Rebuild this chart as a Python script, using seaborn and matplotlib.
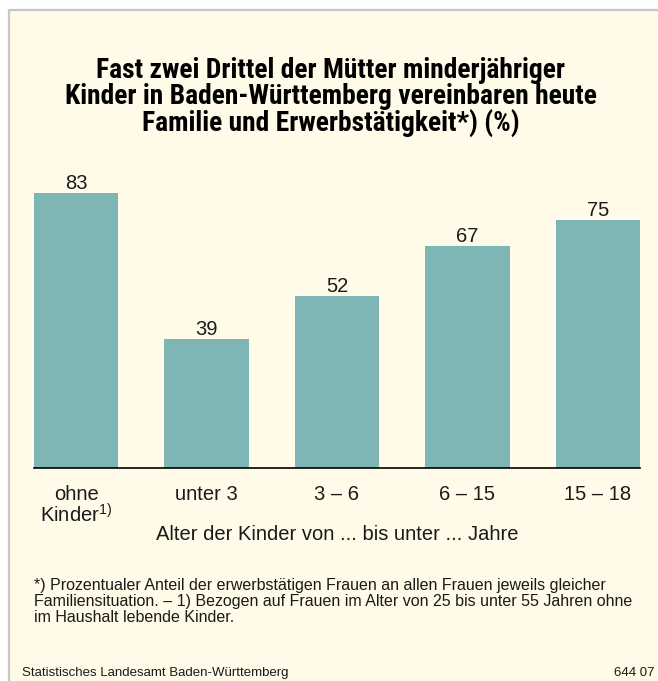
import matplotlib
matplotlib.use("Agg")
import matplotlib.pyplot as plt
from matplotlib.patches import Rectangle
from matplotlib.lines import Line2D
import seaborn as sns
import pandas as pd

# ---- data ----
categories = ["ohne Kinder", "unter 3", "3 – 6", "6 – 15", "15 – 18"]
tick_labels = ["ohne\nKinder$^{\\mathrm{1)}}$", "unter 3", "3 – 6", "6 – 15", "15 – 18"]
values = [83, 39, 52, 67, 75]
title_lines = [
    "Fast zwei Drittel der Mütter minderjähriger",
    "Kinder in Baden-Württemberg vereinbaren heute",
    "Familie und Erwerbstätigkeit*) (%)",
]
xlabel = "Alter der Kinder von ... bis unter ... Jahre"
footnote_lines = [
    "*) Prozentualer Anteil der erwerbstätigen Frauen an allen Frauen jeweils gleicher",
    "Familiensituation. – 1) Bezogen auf Frauen im Alter von 25 bis unter 55 Jahren ohne",
    "im Haushalt lebende Kinder.",
]
source_text = "Statistisches Landesamt Baden-Württemberg"
code_text = "644 07"

# ---- style ----
W, H = 658, 681
BG = "#FFFBE8"
BAR = "#7EB6B6"
TXT = "#1A1A1A"
sns.set_theme(style="white")
plt.rcParams["font.family"] = ["Liberation Sans", "DejaVu Sans"]
plt.rcParams["mathtext.fontset"] = "custom"
plt.rcParams["mathtext.rm"] = "Liberation Sans"
plt.rcParams["mathtext.it"] = "Liberation Sans:italic"
plt.rcParams["mathtext.bf"] = "Liberation Sans:bold"
TITLE_FONT = ["Roboto Condensed", "Liberation Sans Narrow", "Liberation Sans", "DejaVu Sans"]

fig = plt.figure(figsize=(W / 100, H / 100), dpi=100, facecolor="white")


def fx(x):
    return x / W


def fy(y):
    return 1 - y / H


# panel background and frame
fig.patches.append(Rectangle((fx(10), 0), 1 - fx(10), fy(11), transform=fig.transFigure,
                             facecolor=BG, edgecolor="none", zorder=-10))
fig.lines.append(Line2D([fx(9), fx(9)], [0, fy(10)], transform=fig.transFigure,
                        color="#C8C8C8", lw=1.6, zorder=-9))
fig.lines.append(Line2D([fx(9), 1], [fy(10), fy(10)], transform=fig.transFigure,
                        color="#C8C8C8", lw=1.6, zorder=-9))

# ---- axes ----
ax = fig.add_axes([fx(34), fy(468), (640 - 34) / W, 331 / H])
ax.set_zorder(5)
ax.set_facecolor("none")
df = pd.DataFrame({"cat": categories, "val": values})
sns.barplot(data=df, x="cat", y="val", color=BAR, saturation=1, width=0.644,
            linewidth=0, edgecolor="none", ax=ax)
ax.set_xlim(-0.322, len(categories) - 1 + 0.322)
ax.set_ylim(0, 100)
for c in ax.containers:
    ax.bar_label(c, labels=[str(v) for v in values], padding=0, fontsize=14.5, color=TXT)

for s in ["top", "left", "right"]:
    ax.spines[s].set_visible(False)
ax.spines["bottom"].set_color("black")
ax.spines["bottom"].set_linewidth(1.2)
ax.spines["bottom"].set_zorder(10)
ax.set_yticks([])
ax.set_ylabel("")
ax.set_xticks(range(len(categories)))
ax.set_xticklabels(tick_labels, fontsize=14.5, color=TXT, linespacing=1.0)
ax.tick_params(axis="x", length=0, pad=12)
ax.set_xlabel(xlabel, fontsize=14.5, color=TXT, labelpad=-1.5)

# ---- title ----
for i, line in enumerate(title_lines):
    fig.text(fx(331), fy(77.5 + 26.5 * i), line, ha="center", va="baseline",
             fontsize=19.8, fontweight="bold", family=TITLE_FONT, color="black")

# ---- footnote ----
for i, line in enumerate(footnote_lines):
    fig.text(fx(34), fy(590 + 16 * i), line, ha="left", va="baseline",
             fontsize=11.5, color=TXT)

fig.text(fx(22), fy(676), source_text, ha="left", va="baseline", fontsize=9.5, color=TXT)
fig.text(fx(654), fy(676), code_text, ha="right", va="baseline", fontsize=9.5, color=TXT)

fig.savefig("out.png", dpi=100, facecolor="white")
